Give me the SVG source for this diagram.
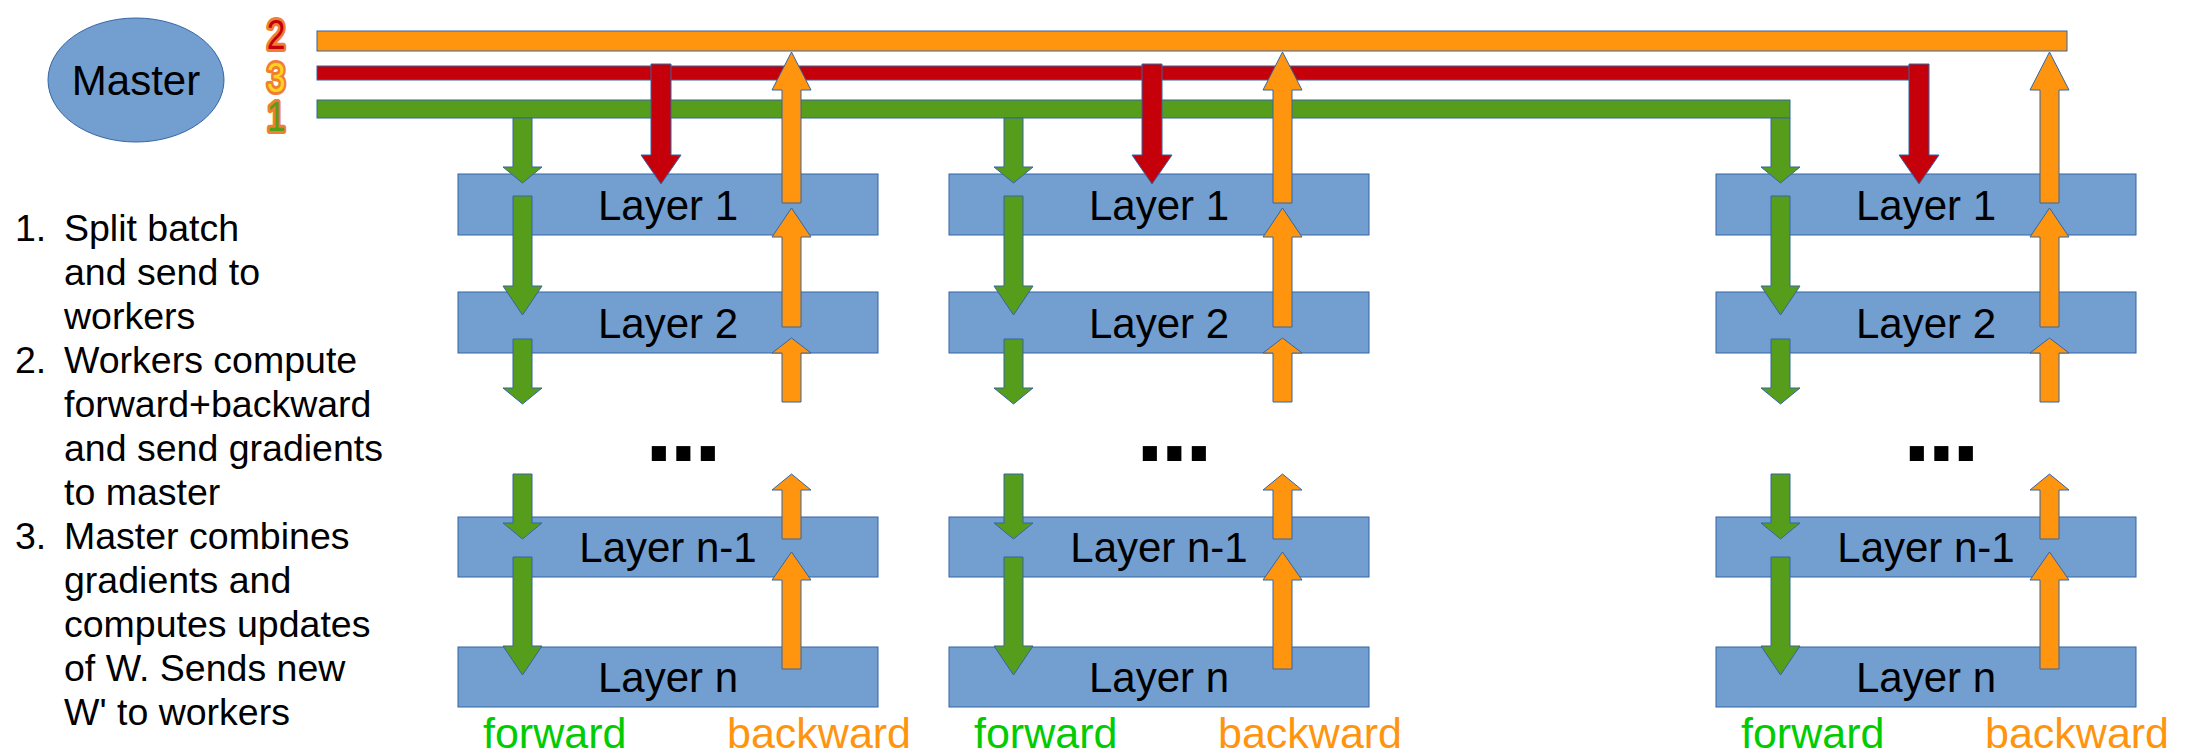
<svg xmlns="http://www.w3.org/2000/svg" xmlns:xlink="http://www.w3.org/1999/xlink" width="2187" height="753" viewBox="0 0 2187 753">
<style>
  text { font-family: "Liberation Sans", Arial, sans-serif; }
  .box { fill: #729FCF; stroke: #3465A4; stroke-width: 1; }
  .lbl { font-size: 42px; fill: #000; text-anchor: middle; }
  .g { fill: #579D1C; stroke: #3465A4; stroke-width: 1; }
  .r { fill: #C5000B; stroke: #3465A4; stroke-width: 1; }
  .o { fill: #FF950E; stroke: #3465A4; stroke-width: 1; }
  .dots { font-size: 100px; font-weight: bold; letter-spacing: -3.3px; fill: #000; }
  .fw { font-size: 43px; fill: #00CC00; }
  .bw { font-size: 43px; fill: #FF950E; }
  .step { font-size: 37.5px; fill: #000; }
  .num { font-size: 42px; stroke: #EF7F32; stroke-width: 6; stroke-linejoin: round; paint-order: stroke; text-anchor: middle; }
</style>
<defs>
  <g id="colArrows">
    <polygon class="g" points="513,118 532,118 532,167 542,167 522.5,183 503,167 513,167"/>
    <polygon class="g" points="513,196 532,196 532,286 542,286 522.5,315 503,286 513,286"/>
    <polygon class="g" points="513,339 532,339 532,388 542,388 522.5,404 503,388 513,388"/>
    <polygon class="g" points="513,474 532,474 532,523 542,523 522.5,539 503,523 513,523"/>
    <polygon class="g" points="513,557 532,557 532,646 542,646 522.5,675 503,646 513,646"/>
    <polygon class="r" points="651,64 671,64 671,155 681,155 661,184 641,155 651,155"/>
    <polygon class="o" points="791.5,52 811,90 801,90 801,203 782,203 782,90 772,90"/>
    <polygon class="o" points="791.5,208 811,237 801,237 801,327 782,327 782,237 772,237"/>
    <polygon class="o" points="791.5,338 811,353 801,353 801,402 782,402 782,353 772,353"/>
    <polygon class="o" points="791.5,474 811,490 801,490 801,539 782,539 782,490 772,490"/>
    <polygon class="o" points="791.5,552 811,580 801,580 801,669 782,669 782,580 772,580"/>
  </g>
</defs>

<g id="master">
  <ellipse cx="136" cy="80" rx="88" ry="62" fill="#729FCF" stroke="#3465A4" stroke-width="1"/>
  <text x="136" y="95" font-size="42" text-anchor="middle" fill="#000">Master</text>
</g>

<g id="step-numbers">
  <text class="num" transform="translate(276,49) scale(0.8,1)" fill="#C5000B">2</text>
  <text class="num" transform="translate(276,92) scale(0.8,1)" fill="#FFD320">3</text>
  <text class="num" transform="translate(276,131) scale(0.8,1)" fill="#579D1C">1</text>
</g>

<g id="steps">
  <text class="step" x="15" y="241">1.</text>
  <text class="step" x="64" y="241">Split batch</text>
  <text class="step" x="64" y="285">and send to</text>
  <text class="step" x="64" y="329">workers</text>
  <text class="step" x="15" y="373">2.</text>
  <text class="step" x="64" y="373">Workers compute</text>
  <text class="step" x="64" y="417">forward+backward</text>
  <text class="step" x="64" y="461">and send gradients</text>
  <text class="step" x="64" y="505">to master</text>
  <text class="step" x="15" y="549">3.</text>
  <text class="step" x="64" y="549">Master combines</text>
  <text class="step" x="64" y="593">gradients and</text>
  <text class="step" x="64" y="637">computes updates</text>
  <text class="step" x="64" y="681">of W. Sends new</text>
  <text class="step" x="64" y="725">W' to workers</text>
</g>

<g id="worker1">
  <g id="w1-layer1"><rect class="box" x="458" y="174" width="420" height="61"/><text class="lbl" x="668" y="220">Layer 1</text></g>
  <g id="w1-layer2"><rect class="box" x="458" y="292" width="420" height="61"/><text class="lbl" x="668" y="338">Layer 2</text></g>
  <g id="w1-layern1"><rect class="box" x="458" y="517" width="420" height="60"/><text class="lbl" x="668" y="562">Layer n-1</text></g>
  <g id="w1-layern"><rect class="box" x="458" y="647" width="420" height="60"/><text class="lbl" x="668" y="692">Layer n</text></g>
</g>
<g id="worker2">
  <g id="w2-layer1"><rect class="box" x="949" y="174" width="420" height="61"/><text class="lbl" x="1159" y="220">Layer 1</text></g>
  <g id="w2-layer2"><rect class="box" x="949" y="292" width="420" height="61"/><text class="lbl" x="1159" y="338">Layer 2</text></g>
  <g id="w2-layern1"><rect class="box" x="949" y="517" width="420" height="60"/><text class="lbl" x="1159" y="562">Layer n-1</text></g>
  <g id="w2-layern"><rect class="box" x="949" y="647" width="420" height="60"/><text class="lbl" x="1159" y="692">Layer n</text></g>
</g>
<g id="worker3">
  <g id="w3-layer1"><rect class="box" x="1716" y="174" width="420" height="61"/><text class="lbl" x="1926" y="220">Layer 1</text></g>
  <g id="w3-layer2"><rect class="box" x="1716" y="292" width="420" height="61"/><text class="lbl" x="1926" y="338">Layer 2</text></g>
  <g id="w3-layern1"><rect class="box" x="1716" y="517" width="420" height="60"/><text class="lbl" x="1926" y="562">Layer n-1</text></g>
  <g id="w3-layern"><rect class="box" x="1716" y="647" width="420" height="60"/><text class="lbl" x="1926" y="692">Layer n</text></g>
</g>

<g id="ellipsis">
  <text class="dots" x="645" y="461">...</text>
  <text class="dots" x="1136" y="461">...</text>
  <text class="dots" x="1903" y="461">...</text>
</g>

<g id="legend">
  <text class="fw" x="483" y="748">forward</text>
  <text class="bw" x="727" y="748">backward</text>
  <text class="fw" x="974" y="748">forward</text>
  <text class="bw" x="1218" y="748">backward</text>
  <text class="fw" x="1741" y="748">forward</text>
  <text class="bw" x="1985" y="748">backward</text>
</g>

<g id="connectors">
  <rect class="o" x="317" y="31" width="1750" height="20"/>
  <rect class="r" x="317" y="66" width="1593" height="14"/>
  <rect class="g" x="317" y="100" width="1473" height="18"/>
  <use xlink:href="#colArrows"/>
  <use xlink:href="#colArrows" transform="translate(491,0)"/>
  <use xlink:href="#colArrows" transform="translate(1258,0)"/>
</g>
</svg>
